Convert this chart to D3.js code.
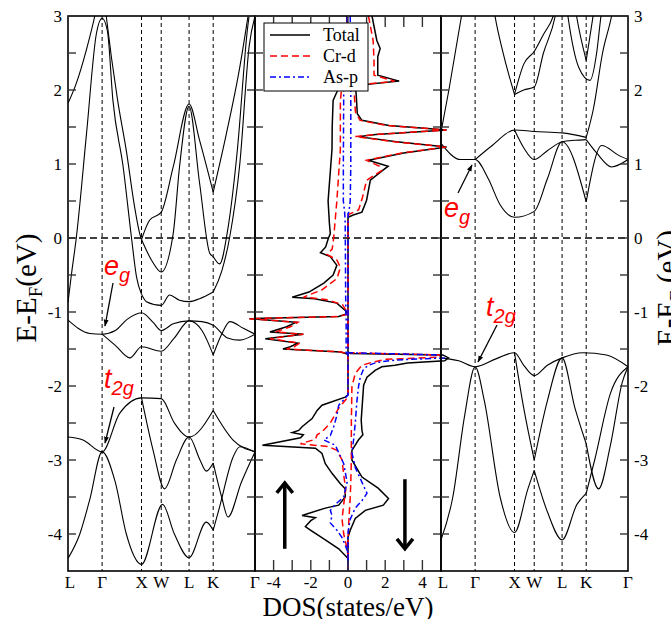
<!DOCTYPE html>
<html><head><meta charset="utf-8">
<script src="https://cdn.jsdelivr.net/npm/d3@7"></script>
<style>body{margin:0;background:#fff} svg{display:block}</style>
</head><body><svg id="c" width="671" height="619"></svg>
<script>
// ---------- data ----------
const kLabels = ["L","Γ","X","W","L","K","Γ"];
const kPos = [0,0.866,1.866,2.366,3.073,3.685,4.746];
const yTicks = [-4,-3,-2,-1,0,1,2,3];
const yMinor = [-3.5,-2.5,-1.5,-0.5,0.5,1.5,2.5];
const dosTicks = [-4,-2,0,2,4];
const dosMinor = [-5,-4,-3,-2,-1,0,1,2,3,4,5];
const legendNames = ["Total","Cr-d","As-p"];

// spin-up bands [k, E, cusp]
const bandsUp = [
 [[0,1.82],[0.21,2.09],[0.47,2.55],[0.68,3.0],[0.866,3.5],[0.97,3.0],[1.26,1.86],[1.48,1.18],[1.69,0.42],[1.82,0.06],[1.866,-0.02,1],[2.07,0.24],[2.366,0.35],[2.67,0.96],[3.073,1.81],[3.34,1.32],[3.685,0.62,1],[4.02,1.41],[4.36,2.31],[4.57,3.0],[4.746,3.6]],
 [[1.866,-0.02,1],[2.12,-0.3],[2.366,-0.46],[2.67,0.06],[2.83,0.96],[3.073,1.78],[3.34,0.74],[3.6,-0.21],[3.685,-0.25,1],[3.85,-0.35],[4.05,0.1],[4.3,1.2],[4.55,2.8],[4.746,3.5]],
 [[0,-0.87],[0.09,-0.48],[0.21,0],[0.47,1.41],[0.72,2.76],[0.866,2.97],[1.0,2.8],[1.14,1.86],[1.4,0.96],[1.61,0.01],[1.74,-0.53],[1.866,-0.76,1],[1.99,-0.86],[2.366,-0.91],[2.58,-0.77],[2.83,-0.84],[3.073,-0.86],[3.34,-0.82],[3.685,-0.73,1],[3.9,-0.45],[4.1,0.0],[4.36,1.0],[4.6,2.6],[4.746,3.0]],
 [[0,-1.11],[0.55,-1.29],[0.866,-1.3],[1.2,-1.25],[1.5,-1.1],[1.866,-1.01],[2.16,-1.14],[2.366,-1.25],[2.67,-1.16],[3.073,-1.12],[3.4,-1.25],[3.685,-1.58,1],[3.9,-1.3],[4.11,-1.13],[4.45,-1.22],[4.746,-1.3]],
 [[0.866,-1.3],[1.2,-1.45],[1.57,-1.62],[1.866,-1.47],[2.366,-1.53],[2.7,-1.35],[3.073,-1.12],[3.4,-1.13],[3.685,-1.18],[4.05,-1.35],[4.36,-1.38],[4.746,-1.3]],
 [[0,-2.69],[0.38,-2.73],[0.866,-2.89],[1.31,-2.37],[1.866,-2.16],[2.366,-2.17],[2.7,-2.5],[3.073,-2.69],[3.685,-2.33,1],[4.19,-2.73],[4.746,-2.89]],
 [[0,-4.33],[0.3,-4.0],[0.55,-3.54],[0.866,-2.89],[1.2,-3.3],[1.48,-4.0],[1.866,-4.41],[2.4,-3.6],[2.7,-4.0],[3.073,-4.32],[3.51,-3.84],[3.685,-3.95,1],[3.85,-3.63],[4.19,-2.96],[4.36,-2.82],[4.746,-2.89]],
 [[1.866,-2.16,1],[2.16,-2.87],[2.45,-3.39],[2.75,-3.0],[3.073,-2.69],[3.35,-3.0],[3.51,-3.15],[3.685,-3.04,1],[3.9,-3.5],[4.06,-3.77],[4.4,-3.3],[4.746,-2.89]]
];
// spin-down bands
const bandsDn = [
 [[0,-1.62],[0.45,-1.66],[0.866,-1.74],[1.41,-1.63],[1.866,-1.55],[2.1,-1.72],[2.366,-1.86],[2.7,-1.72],[3.073,-1.62],[3.6,-1.55],[4.2,-1.58],[4.746,-1.74]],
 [[0,-4.08],[0.3,-3.5],[0.6,-2.4],[0.866,-1.74],[1.1,-2.2],[1.5,-3.5],[1.866,-3.98],[2.2,-3.4],[2.366,-3.14,1],[2.7,-3.7],[3.073,-4.08],[3.45,-3.6],[3.685,-3.45,1],[3.9,-3.0],[4.3,-2.1],[4.746,-1.74]],
 [[1.866,-1.55,1],[2.1,-2.3],[2.366,-3.0,1],[2.7,-2.2],[3.073,-1.62],[3.4,-2.3],[3.685,-2.78,1],[4.0,-3.39],[4.3,-2.8],[4.6,-1.95],[4.746,-1.74]],
 [[0,1.28],[0.5,1.06],[0.866,1.06],[1.2,0.8],[1.5,0.45],[1.866,0.28],[2.366,0.36],[2.7,0.8],[3.073,1.3],[3.685,0.49,1],[4.08,1.25],[4.5,1.12],[4.746,1.06]],
 [[0.866,1.06],[1.3,1.25],[1.866,1.46],[2.366,1.44],[3.073,1.42],[3.685,1.36,1],[3.87,1.75],[4.1,2.5],[4.33,3.0],[4.5,3.5]],
 [[1.866,1.46,1],[2.1,1.22],[2.366,1.06],[2.7,1.18],[3.073,1.3],[3.4,1.32],[3.685,1.33,1],[3.95,1.15],[4.33,0.96],[4.746,1.06]],
 [[0,1.43],[0.2,2.0],[0.52,3.0],[0.7,3.6]],
 [[1.2,3.6],[1.37,3.0],[1.6,2.45],[1.866,1.94,1],[2.1,2.0],[2.366,2.04],[2.6,2.5],[2.9,3.0],[3.0,3.3]],
 [[1.866,1.94,1],[2.1,2.35],[2.366,2.52],[2.6,2.75],[2.85,3.0],[3.0,3.3]],
 [[3.3,3.5],[3.44,3.0],[3.685,2.4,1],[3.86,3.0],[4.0,3.5]],
 [[3.1,3.5],[3.22,3.0],[3.5,2.3],[3.78,2.13],[3.95,2.5],[4.06,3.0],[4.2,3.5]]
];

// DOS [E, value]; spin-up negative, spin-down positive
const totUp = [[3,-0.05],[2.5,-0.1],[2.1,-0.3],[2.0,-0.55],[1.86,-0.8],[1.5,-0.85],[1.2,-0.86],[0.9,-0.95],[0.5,-1.07],[0.2,-1.0],[0.06,-0.95],[0,-1.05],[-0.12,-1.2],[-0.2,-1.48],[-0.25,-0.95],[-0.37,-0.6],[-0.5,-0.8],[-0.61,-1.3],[-0.73,-2.1],[-0.8,-3.0],[-0.82,-1.8],[-0.88,-0.6],[-0.98,-0.15],[-1.02,0],[-1.06,-0.5],[-1.09,-5.3],[-1.14,-2.8],[-1.2,-3.3],[-1.27,-4.2],[-1.30,-2.4],[-1.36,-4.45],[-1.42,-2.7],[-1.47,-3.1],[-1.50,-3.5],[-1.54,-0.4],[-1.57,0],[-2.12,0],[-2.15,-0.15],[-2.26,-1.4],[-2.33,-1.66],[-2.44,-1.93],[-2.55,-2.47],[-2.6,-2.65],[-2.63,-3.0],[-2.66,-2.4],[-2.7,-2.55],[-2.8,-4.6],[-2.84,-1.75],[-2.91,-1.4],[-3.05,-1.22],[-3.18,-0.86],[-3.32,-0.41],[-3.39,-0.15],[-3.5,-0.15],[-3.61,-0.5],[-3.65,-1.22],[-3.75,-2.47],[-3.78,-1.75],[-3.82,-2.0],[-3.9,-2.29],[-3.95,-2.0],[-4.08,-1.22],[-4.2,-0.5],[-4.29,-0.15],[-4.33,0],[-4.5,0]];
const totDn = [[3,1.29],[2.67,1.55],[2.56,1.73],[2.45,1.6],[2.2,1.6],[2.12,2.75],[2.06,0.4],[1.9,0.45],[1.68,0.5],[1.59,0.75],[1.52,2.2],[1.46,5.3],[1.40,1.5],[1.37,0.55],[1.3,2.6],[1.23,5.3],[1.15,3.0],[1.05,1.1],[0.97,2.16],[0.92,1.9],[0.78,1.2],[0.51,1.0],[0.35,0.75],[0.31,0.28],[0.28,0],[-1.54,0],[-1.56,0.12],[-1.58,5.1],[-1.62,5.4],[-1.66,5.2],[-1.69,3.2],[-1.72,2.53],[-1.74,1.82],[-1.79,1.46],[-1.88,1.02],[-1.99,0.84],[-2.46,0.71],[-2.6,0.75],[-2.66,0.8],[-2.73,0.56],[-2.87,0.21],[-3.0,0.21],[-3.23,0.75],[-3.38,1.62],[-3.52,2.18],[-3.61,1.9],[-3.68,0.93],[-3.79,0.39],[-3.95,0.12],[-4.04,0],[-4.5,0]];
const crUp = [[3,-0.05],[2.1,-0.1],[2.0,-0.35],[1.86,-0.41],[1.2,-0.41],[0.5,-0.6],[0,-0.77],[-0.15,-0.85],[-0.22,-1.13],[-0.3,-0.59],[-0.4,-0.41],[-0.55,-0.6],[-0.7,-1.4],[-0.8,-2.4],[-0.83,-1.2],[-0.9,-0.3],[-1.0,-0.05],[-1.03,0],[-1.06,-0.5],[-1.09,-5.3],[-1.14,-2.7],[-1.2,-3.1],[-1.27,-3.9],[-1.3,-2.4],[-1.36,-4.2],[-1.42,-2.6],[-1.47,-2.9],[-1.5,-3.3],[-1.54,-0.35],[-1.57,0],[-2.12,0],[-2.18,-0.1],[-2.3,-0.5],[-2.5,-0.95],[-2.62,-1.4],[-2.66,-1.66],[-2.72,-1.75],[-2.78,-2.56],[-2.82,-1.04],[-2.87,-0.59],[-3.0,-0.32],[-3.2,-0.23],[-3.4,-0.12],[-3.6,-0.23],[-3.8,-0.32],[-4.0,-0.23],[-4.2,-0.05],[-4.3,0],[-4.5,0]];
const crDn = [[3,1.1],[2.67,1.35],[2.4,1.4],[2.2,1.4],[2.12,2.5],[2.06,0.3],[1.9,0.35],[1.7,0.4],[1.59,0.65],[1.52,2.1],[1.46,5.3],[1.40,1.5],[1.37,0.4],[1.3,2.5],[1.23,5.3],[1.15,2.9],[1.05,1.0],[0.97,1.7],[0.91,1.8],[0.78,1.0],[0.55,0.78],[0.38,0.57],[0.32,0.05],[0.3,0],[-1.55,0],[-1.58,4.9],[-1.61,5.0],[-1.64,2.0],[-1.68,1.29],[-1.72,0.75],[-1.83,0.39],[-2.01,0.21],[-2.5,0.18],[-3.0,0.18],[-3.3,0.15],[-3.5,0.12],[-3.8,0.05],[-4.0,0.02],[-4.05,0],[-4.5,0]];
const asUp = [[3,-0.05],[2.1,-0.1],[2.0,-0.23],[1.0,-0.25],[0.5,-0.25],[0.35,-0.18],[0.2,-0.15],[-1.0,-0.12],[-1.1,-0.1],[-1.55,-0.1],[-1.57,0],[-2.12,0],[-2.15,-0.1],[-2.26,-0.5],[-2.4,-0.6],[-2.55,-0.77],[-2.67,-0.95],[-2.73,-1.3],[-2.8,-0.68],[-2.9,-0.5],[-3.05,-0.23],[-3.3,-0.05],[-3.5,-0.23],[-3.6,-0.68],[-3.68,-0.95],[-3.75,-0.86],[-3.85,-0.95],[-3.95,-0.59],[-4.05,-0.32],[-4.15,-0.15],[-4.25,0],[-4.5,0]];
const asDn = [[3,0.12],[2.1,0.15],[1.0,0.15],[0.5,0.12],[0.35,0.05],[0.33,0],[-1.55,0],[-1.58,4.8],[-1.62,5.2],[-1.65,2.5],[-1.68,1.55],[-1.72,1.1],[-1.77,0.84],[-1.88,0.66],[-2.0,0.57],[-2.2,0.48],[-2.5,0.39],[-2.73,0.3],[-2.9,0.21],[-3.1,0.39],[-3.3,0.75],[-3.45,1.02],[-3.55,0.75],[-3.65,0.39],[-3.8,0.12],[-3.95,0.02],[-4.0,0],[-4.5,0]];

// ---------- drawing ----------
const svg = d3.select("#c");
svg.append("rect").attr("width",671).attr("height",619).attr("fill","#fff");
const topY = 16, botY = 571;
const y = d3.scaleLinear().domain([-4.5,3]).range([botY,topY]);
const xL = d3.scaleLinear().domain([0,4.746]).range([68,255]);
const xD = d3.scaleLinear().domain([-5,5]).range([255,441]);
const xR = d3.scaleLinear().domain([0,4.746]).range([441,628]);
const serif = "'Liberation Serif','Times New Roman',serif";
const sans = "'Liberation Sans',Arial,sans-serif";

const defs = svg.append("defs");
[["cL",68,255],["cR",441,628]].forEach(([id,a,b])=>{
  defs.append("clipPath").attr("id",id).append("rect").attr("x",a).attr("y",topY).attr("width",b-a).attr("height",botY-topY);
});
defs.append("marker").attr("id","ah").attr("viewBox","0 0 10 10").attr("refX",9).attr("refY",5)
  .attr("markerWidth",7).attr("markerHeight",7).attr("orient","auto-start-reverse").attr("markerUnits","userSpaceOnUse")
  .append("path").attr("d","M0,1.5 L10,5 L0,8.5 Z").attr("fill","#000");

// zero line
svg.append("line").attr("x1",68).attr("x2",628).attr("y1",y(0)).attr("y2",y(0))
  .attr("stroke","#000").attr("stroke-width",1.3).attr("stroke-dasharray","7,4");

function bandPanel(xs, bands, clip){
  const g = svg.append("g").attr("clip-path",`url(#${clip})`);
  kPos.slice(1,-1).forEach(k=>{
    g.append("line").attr("x1",xs(k)).attr("x2",xs(k)).attr("y1",topY).attr("y2",botY)
      .attr("stroke","#000").attr("stroke-width",1).attr("stroke-dasharray","4,3");
  });
  const ln = d3.line().x(d=>xs(d[0])).y(d=>y(d[1])).curve(d3.curveMonotoneX);
  bands.forEach(b=>{
    const segs=[]; let cur=[];
    b.forEach((p,i)=>{ cur.push(p); if(p[2] && i>0 && i<b.length-1){ segs.push(cur); cur=[p]; } });
    segs.push(cur);
    segs.forEach(s=>{ if(s.length>1) g.append("path").attr("d",ln(s)).attr("fill","none").attr("stroke","#000").attr("stroke-width",1.1); });
  });
}
bandPanel(xL, bandsUp, "cL");
bandPanel(xR, bandsDn, "cR");

// DOS
const dl = d3.line().x(d=>xD(d[1])).y(d=>y(d[0]));
const dosSeries = [
  [totUp,"#000",null],[totDn,"#000",null],
  [crUp,"#ff0000","7,4"],[crDn,"#ff0000","7,4"],
  [asUp,"#0000ff","6,3,2,3"],[asDn,"#0000ff","6,3,2,3"]
];
dosSeries.forEach(([d,c,da])=>{
  const p = svg.append("path").attr("d",dl(d)).attr("fill","none").attr("stroke",c).attr("stroke-width",1.5);
  if(da) p.attr("stroke-dasharray",da);
});

// frames + ticks
[[68,255],[255,441],[441,628]].forEach(([a,b])=>{
  svg.append("rect").attr("x",a).attr("y",topY).attr("width",b-a).attr("height",botY-topY)
    .attr("fill","none").attr("stroke","#000").attr("stroke-width",1.6);
  yTicks.concat(yMinor).forEach(t=>{
    svg.append("line").attr("x1",a).attr("x2",a+8).attr("y1",y(t)).attr("y2",y(t)).attr("stroke","#333").attr("stroke-width",1.4);
    svg.append("line").attr("x1",b-8).attr("x2",b).attr("y1",y(t)).attr("y2",y(t)).attr("stroke","#333").attr("stroke-width",1.4);
  });
});
dosMinor.slice(1,-1).forEach(t=>{
  svg.append("line").attr("x1",xD(t)).attr("x2",xD(t)).attr("y1",botY).attr("y2",botY-11).attr("stroke","#333").attr("stroke-width",1.4);
  svg.append("line").attr("x1",xD(t)).attr("x2",xD(t)).attr("y1",topY).attr("y2",topY+11).attr("stroke","#333").attr("stroke-width",1.4);
});

// tick labels
yTicks.forEach(t=>{
  svg.append("text").attr("x",62).attr("y",y(t)+5.5).attr("text-anchor","end")
    .attr("font-family",serif).attr("font-size",17).text(t);
  svg.append("text").attr("x",634).attr("y",y(t)+5.5).attr("text-anchor","start")
    .attr("font-family",serif).attr("font-size",17).text(t);
});
[[xL,kLabels],[xR,kLabels]].forEach(([xs,labs])=>{
  labs.forEach((l,i)=>{
    svg.append("text").attr("x",xs(kPos[i])+(i===0?2:0)).attr("y",588).attr("text-anchor","middle")
      .attr("font-family",serif).attr("font-size",17).text(l);
  });
});
dosTicks.forEach(t=>{
  svg.append("text").attr("x",xD(t)).attr("y",588).attr("text-anchor","middle")
    .attr("font-family",serif).attr("font-size",17).text(t);
});

// axis titles
function ylab(x, txt2){
  const t = svg.append("text").attr("transform",`translate(${x},288) rotate(-90)`).attr("text-anchor","middle")
    .attr("font-family",serif).attr("font-size",29);
  t.append("tspan").text("E-E");
  t.append("tspan").attr("font-size",19).attr("dy",6).text("F");
  t.append("tspan").attr("dy",-6).text(txt2);
}
ylab(36,"(eV)");
ylab(677," (eV)");
svg.append("text").attr("x",348).attr("y",616).attr("text-anchor","middle")
  .attr("font-family",serif).attr("font-size",27).text("DOS(states/eV)");

// legend
const lg = svg.append("g");
lg.append("rect").attr("x",264).attr("y",23).attr("width",104).attr("height",68).attr("fill","#fff").attr("stroke","#000").attr("stroke-width",1);
const lstyles = [["#000",null],["#ff0000","7,4"],["#0000ff","6,3,2,3"]];
legendNames.forEach((n,i)=>{
  const yy = 35+i*21;
  const l = lg.append("line").attr("x1",270).attr("x2",310).attr("y1",yy).attr("y2",yy).attr("stroke",lstyles[i][0]).attr("stroke-width",1.5);
  if(lstyles[i][1]) l.attr("stroke-dasharray",lstyles[i][1]);
  lg.append("text").attr("x",323).attr("y",yy+6).attr("font-family",serif).attr("font-size",18).text(n);
});

// annotations
function orb(x, yb, main, sub){
  const t = svg.append("text").attr("x",x).attr("y",yb).attr("fill","#ff0000")
    .attr("font-family",sans).attr("font-style","italic").attr("font-size",27);
  t.append("tspan").text(main);
  t.append("tspan").attr("font-size",20).attr("dy",7).text(sub);
}
orb(104,275,"e","g");
orb(104,388,"t","2g");
orb(444,217,"e","g");
orb(486,316,"t","2g");
function arrow(x1,y1,x2,y2){
  svg.append("line").attr("x1",x1).attr("y1",y1).attr("x2",x2).attr("y2",y2)
    .attr("stroke","#000").attr("stroke-width",1.3).attr("marker-end","url(#ah)");
}
arrow(113,283,105,326);
arrow(114,407,105,443);
arrow(458,193,472,165);
arrow(497,325,478,362);

// spin arrows
function bigArrow(xv, e1, e2){
  const x = xD(xv), y1 = y(e1), y2 = y(e2), s = y2<y1?1:-1;
  svg.append("line").attr("x1",x).attr("x2",x).attr("y1",y1).attr("y2",y2).attr("stroke","#000").attr("stroke-width",3.5);
  svg.append("path").attr("d",`M${x-8},${y2+s*10} L${x},${y2} L${x+8},${y2+s*10}`).attr("fill","none").attr("stroke","#000").attr("stroke-width",3.5);
}
bigArrow(-3.4,-4.2,-3.31);
bigArrow(3.06,-3.26,-4.2);
</script></body></html>
